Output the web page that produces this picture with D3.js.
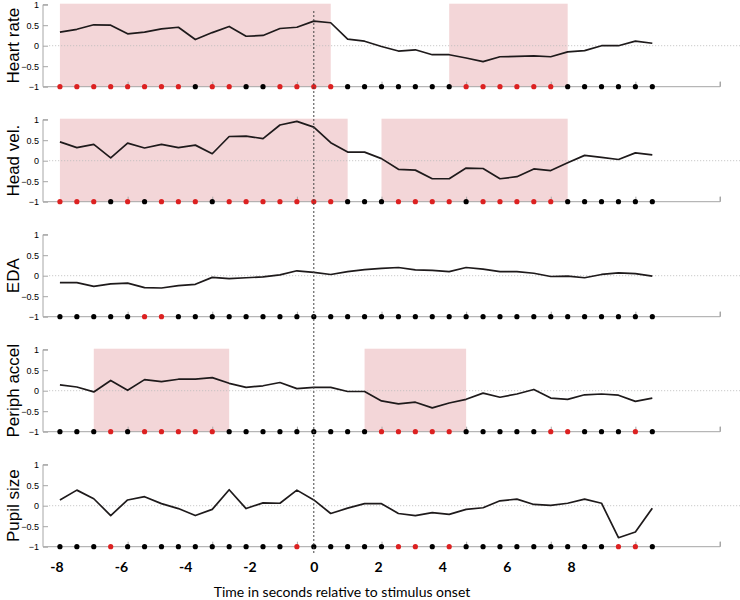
<!DOCTYPE html>
<html><head><meta charset="utf-8">
<script src="https://cdn.jsdelivr.net/npm/d3@7"></script>
<style>body{margin:0;background:#fff}svg{display:block}</style>
</head><body>
<svg id="c" width="740" height="600"></svg>
<script>
// ---- data ----
const panelNames = ["Heart rate","Head vel.","EDA","Periph accel","Pupil size"];
const heartRate = [0.33,0.40,0.51,0.50,0.29,0.33,0.41,0.45,0.15,0.32,0.47,0.23,0.25,0.42,0.45,0.60,0.56,0.16,0.11,-0.02,-0.13,-0.10,-0.22,-0.22,-0.30,-0.39,-0.27,-0.26,-0.25,-0.27,-0.15,-0.12,0.0,0.0,0.11,0.06];
const headVel = [0.46,0.32,0.40,0.07,0.43,0.31,0.40,0.32,0.38,0.17,0.59,0.60,0.54,0.87,0.96,0.82,0.44,0.21,0.21,0.05,-0.21,-0.23,-0.44,-0.44,-0.18,-0.19,-0.44,-0.39,-0.20,-0.24,-0.05,0.13,0.08,0.03,0.19,0.14];
const eda = [-0.17,-0.17,-0.26,-0.20,-0.18,-0.29,-0.30,-0.24,-0.21,-0.04,-0.07,-0.05,-0.03,0.02,0.12,0.08,0.03,0.10,0.15,0.18,0.20,0.14,0.13,0.10,0.20,0.16,0.10,0.10,0.06,-0.02,-0.01,-0.05,0.03,0.07,0.05,-0.01];
const periphAccel = [0.14,0.09,-0.03,0.25,0.01,0.27,0.22,0.28,0.28,0.32,0.18,0.08,0.12,0.20,0.05,0.08,0.08,-0.02,-0.02,-0.25,-0.32,-0.28,-0.42,-0.30,-0.21,-0.06,-0.16,-0.08,0.03,-0.18,-0.21,-0.10,-0.08,-0.11,-0.26,-0.18];
const pupilSize = [0.14,0.38,0.17,-0.24,0.14,0.22,0.05,-0.07,-0.24,-0.09,0.39,-0.07,0.07,0.06,0.38,0.14,-0.19,-0.06,0.05,0.05,-0.19,-0.24,-0.17,-0.21,-0.09,-0.05,0.12,0.16,0.03,0.01,0.06,0.16,0.06,-0.78,-0.64,-0.06];
// significant samples (1-based sample numbers) shown as red dots
const sigHeartRate = [1,2,3,4,5,6,7,8,10,11,14,15,16,17,25,26,27,28,29,30];
const sigHeadVel = [1,2,3,5,7,8,9,11,12,13,14,15,16,17,21,22,23,24,26,27,28,29,30];
const sigEda = [6,7];
const sigPeriphAccel = [4,6,7,8,9,10,20,21,22,23,24,30,31,35];
const sigPupilSize = [4,15,21,22,24,34,35];
// shaded windows [startSample, endSample]
const shadeHeartRate = [[1,17],[24,31]];
const shadeHeadVel = [[1,18],[20,31]];
const shadeEda = [];
const shadePeriphAccel = [[3,11],[19,25]];
const shadePupilSize = [];
const yTicks = [1,0.5,0,-0.5,-1];
const sampleTicks = [5,10,15,20,25,30,35,40];
const timeTicks = [-8,-6,-4,-2,0,2,4,6,8];
const onsetSample = 16;      // sample at stimulus onset (t = 0)
const samplePeriod = 10/19;  // seconds per sample
const nSamplesAxis = 40;
const xTitle = "Time in seconds relative to stimulus onset";

const series = [heartRate, headVel, eda, periphAccel, pupilSize];
const sigs = [sigHeartRate, sigHeadVel, sigEda, sigPeriphAccel, sigPupilSize];
const shades = [shadeHeartRate, shadeHeadVel, shadeEda, shadePeriphAccel, shadePupilSize];

// ---- layout ----
const svg = d3.select("#c");
const x0 = 43, x1 = 720;
const xs = d3.scaleLinear().domain([0, nSamplesAxis]).range([x0, x1]);
const xt = d3.scaleLinear()
  .domain([(0 - onsetSample) * samplePeriod, (nSamplesAxis - onsetSample) * samplePeriod])
  .range([x0, x1]);
const panelTop = 4.7, panelH = 82, panelStep = 115;
const axisCol = "#a6a6a6";

series.forEach((vals, k) => {
  const top = panelTop + k * panelStep;
  const y = d3.scaleLinear().domain([-1, 1]).range([top + panelH, top]);
  const g = svg.append("g");
  // shading
  g.selectAll("rect.sh").data(shades[k]).join("rect")
    .attr("x", d => xs(d[0])).attr("width", d => xs(d[1]) - xs(d[0]))
    .attr("y", y(1) - 1).attr("height", y(-1) - y(1) + 1)
    .attr("fill", "#f3d6d8");
  // zero dotted line
  g.append("line").attr("x1", 49).attr("x2", 740).attr("y1", y(0)).attr("y2", y(0))
    .attr("stroke", "#bdbdbd").attr("stroke-width", 0.8).attr("stroke-dasharray", "1.2,1.8");
  // y axis
  const ya = d3.axisRight(y).tickValues(yTicks).tickSize(5)
    .tickFormat(d => d3.format("")(d).replace("-", "\u2212"));
  const yg = g.append("g").attr("transform", `translate(${x0},0)`).call(ya);
  yg.select(".domain").attr("stroke", axisCol).attr("d", `M5,${y(1)}H0V${y(-1)}`);
  yg.selectAll(".tick line").attr("stroke", axisCol);
  yg.selectAll(".tick text").attr("x", -4).attr("text-anchor", "end")
    .attr("font-family", "Liberation Sans, Arial, sans-serif").attr("font-size", 9).attr("fill", "#000");
  // sample axis at y=-1
  const xa = d3.axisTop(xs).tickValues(sampleTicks).tickSize(5).tickFormat("");
  const xg = g.append("g").attr("transform", `translate(0,${y(-1)})`).call(xa);
  xg.select(".domain").attr("stroke", axisCol).attr("d", `M${x0},0H${x1}V-5`);
  xg.selectAll(".tick line").attr("stroke", axisCol);
  // line
  const line = d3.line().x((d, i) => xs(i + 1)).y(d => y(d));
  g.append("path").datum(vals).attr("d", line).attr("fill", "none")
    .attr("stroke", "#1e1a1b").attr("stroke-width", 1.7).attr("stroke-linejoin", "round");
  // dots
  const sigSet = new Set(sigs[k]);
  g.selectAll("circle").data(vals).join("circle")
    .attr("cx", (d, i) => xs(i + 1)).attr("cy", y(-1)).attr("r", 2.6)
    .attr("fill", (d, i) => sigSet.has(i + 1) ? "#dc2121" : "#000");
  // y label
  g.append("text").attr("transform", `translate(19,${y(0)}) rotate(-90)`)
    .attr("text-anchor", "middle").attr("font-family", "Liberation Sans, Arial, sans-serif")
    .attr("font-size", 17).attr("fill", "#000").text(panelNames[k]);
});

// onset dashed line
svg.append("line").attr("x1", xt(0)).attr("x2", xt(0)).attr("y1", 11).attr("y2", 553)
  .attr("stroke", "#444").attr("stroke-width", 1).attr("stroke-dasharray", "2,2");

// bottom time axis (labels only)
const ta = d3.axisBottom(xt).tickValues(timeTicks).tickSize(0).tickFormat(d => d);
const tg = svg.append("g").attr("transform", "translate(0,556)").call(ta);
tg.select(".domain").remove();
tg.selectAll(".tick text").attr("font-family", "Lato, sans-serif").attr("font-weight", "bold")
  .attr("font-size", 14).attr("fill", "#000").attr("dy", "0.9em");

svg.append("text").attr("x", 342).attr("y", 597).attr("text-anchor", "middle")
  .attr("font-family", "Lato, sans-serif").attr("font-size", 14).attr("fill", "#000").text(xTitle);
</script>
</body></html>
